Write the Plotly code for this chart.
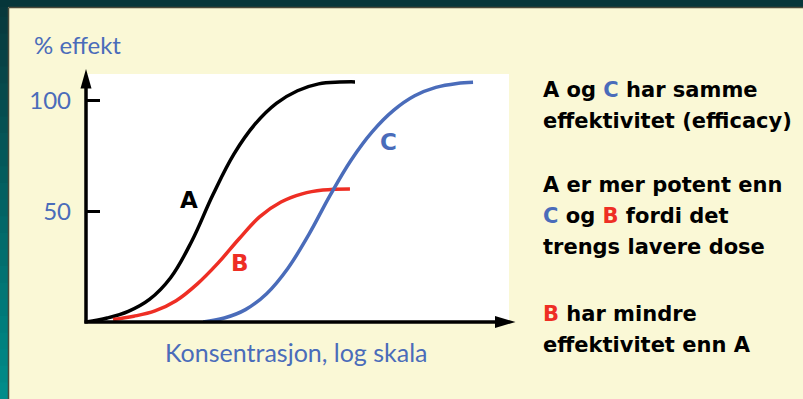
import plotly.graph_objects as go

# ---------------- data (log-concentration units, % effect) ----------------
a_x = [0.0, 0.5, 1.0, 1.5, 2.0, 2.5, 3.0, 3.5, 4.0, 4.5, 5.0, 5.5, 6.0, 6.36]
a_y = [0.0, 1.8, 4.8, 10.2, 20.0, 36.5, 57.5, 76.0, 89.5, 98.8, 104.5, 107.6, 108.4, 108.5]

b_x = [0.64, 1.13, 1.63, 2.13, 2.62, 3.12, 3.62, 4.11, 4.61, 5.11, 5.60, 6.24]
b_y = [1.1, 2.6, 5.0, 9.6, 17.0, 26.6, 37.6, 47.6, 54.2, 57.9, 59.6, 60.1]

c_x = [2.77, 3.27, 3.77, 4.27, 4.77, 5.27, 5.77, 6.27, 6.77, 7.27, 7.77, 8.27, 8.77, 9.15]
c_y = [0.0, 1.8, 5.6, 12.8, 24.2, 39.6, 57.2, 73.2, 86.0, 95.6, 102.2, 106.0, 107.8, 108.3]

y_tick_vals = [50, 100]
y_tick_text = ["50", "100"]

curve_labels = ["A", "B", "C"]
label_x = [2.44, 3.64, 7.16]
label_y = [55.0, 26.5, 81.5]

# ---------------- styling ----------------
BLACK = "#000000"
RED = "#EE2E24"
BLUE = "#4A6CBA"
PANEL = "#FAF8D6"
W, H = 803, 399
L, R, T, B = 86, 509, 74, 322  # plot area in pixels


def px(x):
    return (x - L) / (R - L)


def py(y):
    return (B - y) / (B - T)


fig = go.Figure()
for xs, ys, col in [(a_x, a_y, BLACK), (b_x, b_y, RED), (c_x, c_y, BLUE)]:
    fig.add_trace(go.Scatter(x=xs, y=ys, mode="lines",
                             line=dict(color=col, width=3.5, shape="spline", smoothing=1.1),
                             hoverinfo="skip", showlegend=False))

annotations = []
# curve letters
for t, xx, yy, col in zip(curve_labels, label_x, label_y, [BLACK, RED, BLUE]):
    annotations.append(dict(x=xx, y=yy, xref="x", yref="y", text=f"<b>{t}</b>", showarrow=False,
                            font=dict(family="DejaVu Sans", size=23, color=col)))

shapes = []
# left teal gradient strip
n = 24
c0 = (8, 56, 60)
c1 = (0, 140, 138)
for i in range(n):
    f = i / (n - 1)
    col = "rgb(%d,%d,%d)" % tuple(int(c0[k] + (c1[k] - c0[k]) * f) for k in range(3))
    y0 = H * i / n
    y1 = H * (i + 1) / n + 1
    shapes.append(dict(type="rect", xref="paper", yref="paper", x0=px(0), x1=px(8),
                       y0=py(y1), y1=py(y0), fillcolor=col, line=dict(width=0), layer="above"))
# top dark strip
shapes.append(dict(type="rect", xref="paper", yref="paper", x0=px(0), x1=px(W),
                   y0=py(7), y1=py(0), fillcolor="rgb(6,54,58)", line=dict(width=0), layer="above"))
# thin panel edge
shapes.append(dict(type="line", xref="paper", yref="paper", x0=px(8.5), x1=px(W),
                   y0=py(7.5), y1=py(7.5), line=dict(color="#4a4a3a", width=1.5)))
shapes.append(dict(type="line", xref="paper", yref="paper", x0=px(8.5), x1=px(8.5),
                   y0=py(7.5), y1=py(H), line=dict(color="#4a4a3a", width=1.5)))

# axes lines
shapes.append(dict(type="line", xref="paper", yref="paper", x0=px(86), x1=px(86),
                   y0=py(323.5), y1=py(86), line=dict(color=BLACK, width=3.5), layer="above"))
shapes.append(dict(type="line", xref="paper", yref="paper", x0=px(84.5), x1=px(497),
                   y0=py(322), y1=py(322), line=dict(color=BLACK, width=3.5), layer="above"))
# arrowheads
shapes.append(dict(type="path", xref="paper", yref="paper",
                   path="M %f %f L %f %f L %f %f Z" % (px(80.5), py(88.5), px(86), py(69), px(91.5), py(88.5)),
                   fillcolor=BLACK, line=dict(width=0), layer="above"))
shapes.append(dict(type="path", xref="paper", yref="paper",
                   path="M %f %f L %f %f L %f %f Z" % (px(495), py(316), px(515.5), py(322), px(495), py(328)),
                   fillcolor=BLACK, line=dict(width=0), layer="above"))

annotations.append(dict(x=px(32), y=py(44), xref="paper", yref="paper", text="% effekt",
                        showarrow=False, xanchor="left", yanchor="middle",
                        font=dict(family="Lato", size=24, color=BLUE)))
annotations.append(dict(x=px(296), y=py(352), xref="paper", yref="paper",
                        text="Konsentrasjon, log skala", showarrow=False,
                        xanchor="center", yanchor="middle",
                        font=dict(family="Lato", size=25, color=BLUE)))


def c(t, col):
    return f"<span style='color:{col}'>{t}</span>"


right_lines = [
    ("A og " + c("C", BLUE) + " har samme", 89.5),
    ("effektivitet (efficacy)", 121),
    ("A er mer potent enn", 185),
    (c("C", BLUE) + " og " + c("B", RED) + " fordi det", 216),
    ("trengs lavere dose", 247),
    (c("B", RED) + " har mindre", 314),
    ("effektivitet enn A", 345),
]
for txt, yy in right_lines:
    annotations.append(dict(x=px(541), y=py(yy), xref="paper", yref="paper",
                            text=f"<b>{txt}</b>", showarrow=False, xanchor="left", yanchor="middle",
                            font=dict(family="DejaVu Sans", size=21, color=BLACK)))

fig.update_layout(
    width=W, height=H,
    margin=dict(l=L, r=W - R, t=T, b=H - B, pad=0),
    paper_bgcolor=PANEL, plot_bgcolor="white",
    showlegend=False,
    xaxis=dict(range=[0, 10], showgrid=False, zeroline=False, showline=False,
               showticklabels=False, ticks="", fixedrange=True),
    yaxis=dict(range=[0, 112.06], showgrid=False, zeroline=False, showline=False,
               tickmode="array", tickvals=y_tick_vals, ticktext=y_tick_text,
               ticks="inside", ticklen=14, tickwidth=2.5, tickcolor=BLACK,
               ticklabelstandoff=14,
               tickfont=dict(family="Lato", size=24, color=BLUE), fixedrange=True),
    shapes=shapes,
    annotations=annotations,
)

fig.write_html("out.html", post_script="document.body.style.margin='0px';",
               config={"displayModeBar": False})
